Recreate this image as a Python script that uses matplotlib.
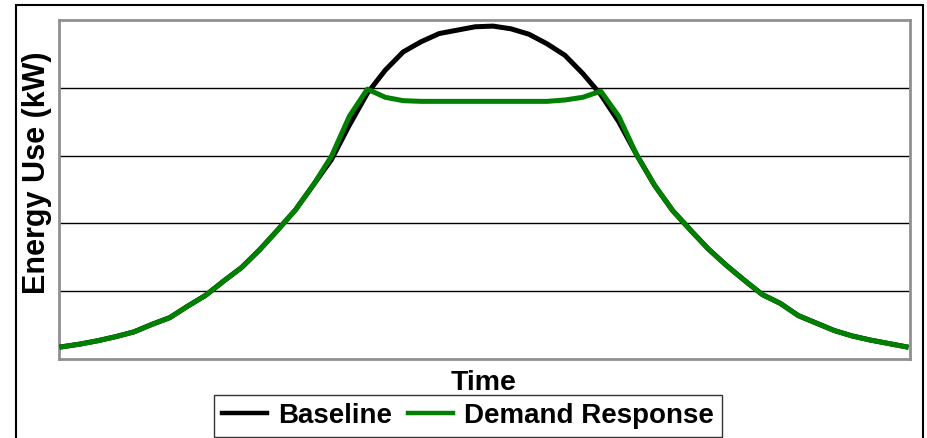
import matplotlib
matplotlib.use("Agg")
import matplotlib.pyplot as plt
from matplotlib.patches import Rectangle

plt.rcParams['font.family'] = ['Liberation Sans', 'DejaVu Sans']

# half-hour steps over one day
time_steps = list(range(48))

baseline = [0.18, 0.22, 0.27, 0.33, 0.40, 0.51, 0.61, 0.78, 0.94, 1.15,
            1.35, 1.61, 1.90, 2.20, 2.57, 2.94, 3.45, 3.92, 4.26, 4.53,
            4.68, 4.80, 4.85, 4.90, 4.91, 4.87, 4.79, 4.65, 4.48, 4.21,
            3.90, 3.50, 3.01, 2.56, 2.19, 1.90, 1.62, 1.38, 1.16, 0.95,
            0.82, 0.64, 0.53, 0.42, 0.34, 0.28, 0.23, 0.18]

demand_response = [0.18, 0.22, 0.27, 0.33, 0.40, 0.51, 0.61, 0.78, 0.94, 1.15,
                   1.35, 1.61, 1.90, 2.20, 2.57, 2.99, 3.58, 3.98, 3.86, 3.81,
                   3.80, 3.80, 3.80, 3.80, 3.80, 3.80, 3.80, 3.80, 3.82, 3.86,
                   3.95, 3.58, 3.01, 2.56, 2.19, 1.90, 1.62, 1.38, 1.16, 0.95,
                   0.82, 0.64, 0.53, 0.42, 0.34, 0.28, 0.23, 0.18]

fig = plt.figure(figsize=(9.28, 4.38), dpi=100)
ax = fig.add_axes([59/928, 1 - 359/438, (910 - 59)/928, (359 - 20)/438])

ax.plot(time_steps, baseline, color='black', lw=3.6, label='Baseline', zorder=3)
ax.plot(time_steps, demand_response, color='#008000', lw=3.6, label='Demand Response', zorder=4)

ax.set_xlim(-0.17, 47.22)
ax.set_ylim(0, 5)
ax.set_yticks([1, 2, 3, 4])
ax.set_xticks([])
ax.tick_params(axis='y', length=0, labelleft=False)
ax.yaxis.grid(True, color='black', lw=1.0)
ax.set_axisbelow(True)
for s in ax.spines.values():
    s.set_color('#909090')
    s.set_linewidth(2)

fig.text(37/928, 1 - 173/438, 'Energy Use (kW)', rotation=90, ha='center', va='center',
         fontsize=22, fontweight='bold')
fig.text(484/928, 1 - 383/438, 'Time', ha='center', va='center',
         fontsize=20.5, fontweight='bold')

h, l = ax.get_legend_handles_labels()
leg = fig.legend(h, l, loc='center', bbox_to_anchor=(468/928, 1 - 416/438), ncol=2,
                 frameon=True, fancybox=False, edgecolor='black',
                 prop={'size': 20, 'weight': 'bold'},
                 handlelength=1.6, handletextpad=0.4, columnspacing=0.6,
                 borderpad=0.3, borderaxespad=0)
leg.get_frame().set_linewidth(1.0)
for line in leg.get_lines():
    line.set_linewidth(3.2)

# outer chart border
fig.patches.append(Rectangle((16/928, -0.05), (923 - 16)/928, 1.05 - 5/438,
                             transform=fig.transFigure, fill=False,
                             edgecolor='black', lw=1.5))

fig.savefig('out.png', dpi=100)
